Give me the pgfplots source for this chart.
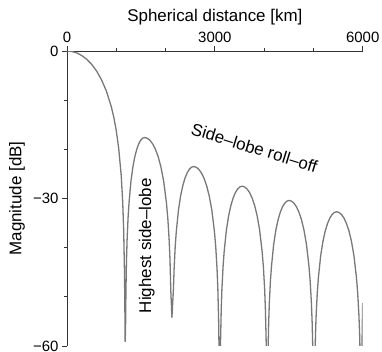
\documentclass[border=0pt]{standalone}
\usepackage{pgfplots}
\pgfplotsset{compat=1.18}
\usepackage{fontspec}
\setmainfont{Liberation Sans}
\definecolor{curve}{RGB}{120,120,120}
\pgfplotstableread{
x y
0 0
100 -0.10
200 -0.40
300 -0.93
400 -1.68
500 -2.71
600 -4.06
700 -5.84
800 -8.17
900 -11.38
950 -13.5
1000 -16.2
1050 -19.9
1100 -25.3
1130 -30.6
1150 -36.4
1165 -44.2
1173 -51.0
1180 -59.1
1187.8 -56.7
1195.7 -48.9
1207.4 -42.5
1219.2 -38.5
1238.8 -34.0
1258.4 -30.9
1297.6 -26.5
1336.8 -23.6
1376 -21.5
1415.2 -20.0
1454.4 -18.9
1493.6 -18.17
1532.8 -17.74
1572 -17.6
1627.7 -17.74
1683.4 -18.17
1739.1 -18.9
1794.8 -20.0
1850.5 -21.5
1906.2 -23.6
1961.9 -26.5
2017.6 -30.9
2045.5 -34.0
2073.3 -38.5
2090.0 -42.5
2106.7 -48.9
2129 -54.2
2159.8 -48.4
2173 -44.4
2195 -39.9
2217 -36.8
2261 -32.4
2305 -29.5
2349 -27.4
2393 -25.9
2437 -24.8
2481 -24.07
2525 -23.64
2569 -23.5
2621.9 -23.64
2674.8 -24.07
2727.7 -24.8
2780.6 -25.9
2833.5 -27.4
2886.4 -29.5
2939.3 -32.4
2992.2 -36.8
3018.7 -39.9
3045.1 -44.4
3061.0 -48.4
3076.8 -54.8
3087.4 -62.6
3098 -75
3107.1 -66.6
3116.2 -58.8
3129.9 -52.4
3143.5 -48.4
3166.3 -43.9
3189 -40.8
3234.5 -36.4
3280 -33.5
3325.5 -31.4
3371 -29.9
3416.5 -28.8
3462 -28.07
3507.5 -27.64
3553 -27.5
3603.8 -27.64
3654.6 -28.07
3705.4 -28.8
3756.2 -29.9
3807 -31.4
3857.8 -33.5
3908.6 -36.4
3959.4 -40.8
3984.8 -43.9
4010.2 -48.4
4025.4 -52.4
4040.7 -58.8
4050.8 -66.6
4061 -75
4069.9 -69.5
4078.8 -61.7
4092.1 -55.3
4105.4 -51.3
4127.6 -46.8
4149.8 -43.7
4194.2 -39.3
4238.6 -36.4
4283 -34.3
4327.4 -32.8
4371.8 -31.7
4416.2 -30.97
4460.6 -30.54
4505 -30.4
4555.5 -30.54
4606 -30.97
4656.5 -31.7
4707 -32.8
4757.5 -34.3
4808 -36.4
4858.5 -39.3
4909 -43.7
4934.3 -46.8
4959.5 -51.3
4974.7 -55.3
4989.8 -61.7
4999.9 -69.5
5010 -80
5019.2 -71.8
5028.4 -64.0
5042.2 -57.6
5056 -53.6
5079 -49.1
5102 -46.0
5148 -41.6
5194 -38.7
5240 -36.6
5286 -35.1
5332 -34.0
5378 -33.27
5424 -32.84
5470 -32.7
5520.3 -32.84
5570.6 -33.27
5620.9 -34.0
5671.2 -35.1
5721.5 -36.6
5771.8 -38.7
5822.1 -41.6
5872.4 -46.0
5897.6 -49.1
5922.7 -53.6
5937.8 -57.6
5952.9 -64.0
5962.9 -71.8
5973 -80
5985 -60.5
5993 -55.0
6000 -51.3
}\curvedata
\begin{document}
\begin{tikzpicture}
\useasboundingbox (-67bp,-6bp) rectangle (315bp,346bp);
\begin{axis}[
  at={(0,0)}, anchor=south west,
  scale only axis, width=295.7bp, height=295bp,
  xmin=0, xmax=6000, ymin=-60, ymax=0,
  axis x line*=top, axis y line*=left,
  axis line style={-, line width=0.8bp, black!80},
  xtick={0,3000,6000}, xticklabels={0,3000,6000},
  minor xtick={1000,2000,4000,5000},
  ytick={-60,-30,0}, yticklabels={−60,−30,0},
  minor ytick={-50,-40,-20,-10},
  tick align=outside,
  major tick length=5bp, minor tick length=3bp,
  every tick/.style={black!80, line width=0.8bp},
  tick label style={font=\fontsize{15}{15}\selectfont},
  xlabel={Spherical distance [km]}, ylabel={Magnitude [dB]},
  label style={font=\fontsize{17}{17}\selectfont},
  ylabel style={yshift=1.5bp},
  clip mode=individual,
]
\addplot[color=curve, line width=1.3bp, line join=round, mark=none] table[x=x,y=y] {\curvedata};
\node[rotate=90, font=\fontsize{17}{17}\selectfont] at (axis cs:1617,-39.6) {Highest side–lobe};
\node[rotate=-17, font=\fontsize{17}{17}\selectfont] at (axis cs:3803,-19.7) {Side–lobe roll–off};
\end{axis}
\end{tikzpicture}
\end{document}
